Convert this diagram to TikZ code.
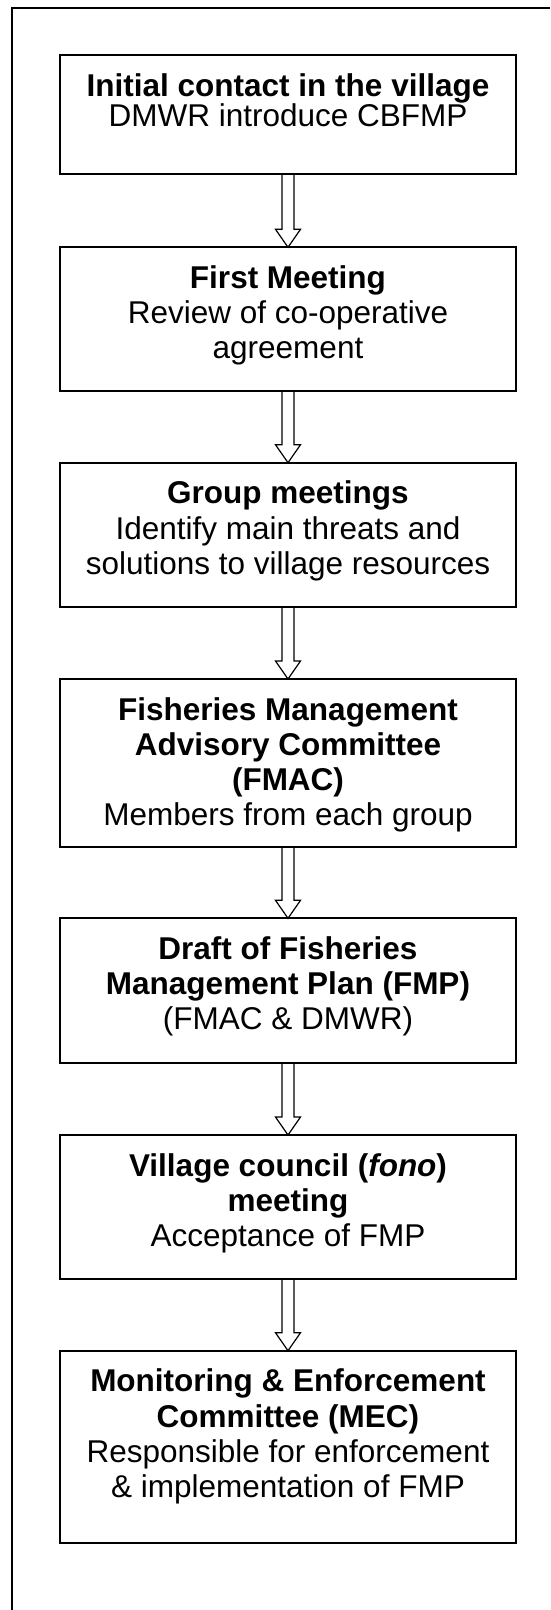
\documentclass[tikz,border=0pt]{standalone}
\usepackage{fontspec}
\setmainfont{Liberation Sans}
\usetikzlibrary{calc}
\tikzset{
  stepbox/.style={draw=black, line width=1.8pt, inner sep=0pt, outer sep=0pt, anchor=north},
  fatarrow/.style={draw=black, line width=1.2pt, line join=miter},
  framepath/.style={draw=black, line width=1.8pt}
}
\newcommand{\boxtext}[2]{\parbox[c][#1][t]{456pt}{\centering\fontsize{31.5}{35.3}\selectfont\rule{0pt}{41pt}#2}}
\newcommand{\fatarr}[2]{\draw[fatarrow] ([xshift=-6pt]#1.south) -- ([xshift=-6pt,yshift=18pt]#2.north) -- ([xshift=-12.5pt,yshift=18pt]#2.north) -- (#2.north) -- ([xshift=12.5pt,yshift=18pt]#2.north) -- ([xshift=6pt,yshift=18pt]#2.north) -- ([xshift=6pt]#1.south);}
\begin{document}
\begin{tikzpicture}[x=1pt,y=1pt]
\useasboundingbox (0,0) rectangle (550,-1610);
\draw[framepath] (12,-1610) -- (12,-8) -- (550,-8);
\node[stepbox] (b1) at (288,-55) {\boxtext{119pt}{\textbf{Initial contact in the village}\\[-4.6pt] DMWR introduce CBFMP}};
\node[stepbox] (b2) at (288,-247.3) {\boxtext{143.4pt}{\textbf{First Meeting}\\ Review of co-operative\\ agreement}};
\node[stepbox] (b3) at (288,-462.7) {\boxtext{144pt}{\textbf{Group meetings}\\ Identify main threats and\\ solutions to village resources}};
\node[stepbox] (b4) at (288,-679) {\boxtext{167.7pt}{\textbf{Fisheries Management}\\ \textbf{Advisory Committee}\\ \textbf{(FMAC)}\\ Members from each group}};
\node[stepbox] (b5) at (288,-918.3) {\boxtext{144.4pt}{\textbf{Draft of Fisheries}\\ \textbf{Management Plan (FMP)}\\ (FMAC \& DMWR)}};
\node[stepbox] (b6) at (288,-1135) {\boxtext{144pt}{\textbf{Village council (\textit{fono})}\\ \textbf{meeting}\\ Acceptance of FMP}};
\node[stepbox] (b7) at (288,-1350.7) {\boxtext{192.3pt}{\textbf{Monitoring \& Enforcement}\\ \textbf{Committee (MEC)}\\ Responsible for enforcement\\ \& implementation of FMP}};
\fatarr{b1}{b2}
\fatarr{b2}{b3}
\fatarr{b3}{b4}
\fatarr{b4}{b5}
\fatarr{b5}{b6}
\fatarr{b6}{b7}
\end{tikzpicture}
\end{document}
